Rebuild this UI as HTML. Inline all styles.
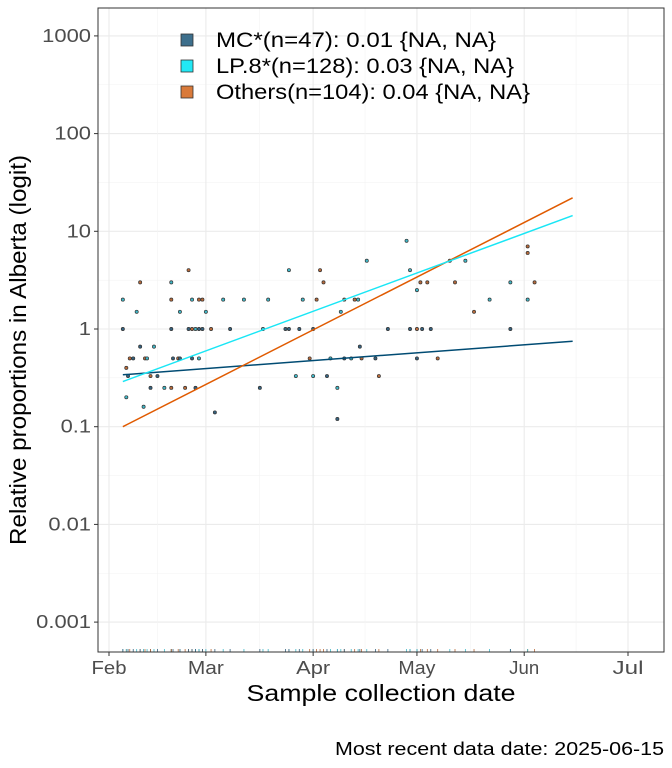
<!DOCTYPE html>
<html><head><meta charset="utf-8"><style>
body{margin:0;background:#fff;}
svg{display:block;font-family:"Liberation Sans",Arial,sans-serif;}
</style></head><body>
<svg id="chart" width="672" height="768" viewBox="0 0 672 768"></svg>
<script>
const yTicks=[0.001,0.01,0.1,1,10,100,1000];
const yTickLabels=["0.001","0.01","0.1","1","10","100","1000"];
const xTickDays=[0,28,59,89,120,150];
const xTickLabels=["Feb","Mar","Apr","May","Jun","Jul"];
const lineStartDay=4, lineEndDay=134;
const mcLine=[0.34,0.75];
const lpLine=[0.29,14.5];
const othersLine=[0.1,22];
const pointDays=[4,4,5,5,5.5,6,7,8,9,9,10,10.4,11,12,12,13,14,16,18,18,18,18,18.5,20,20.5,20.5,22,23,23,24,24,24,25,25,26,26,26,27,27,28,29.5,30.6,33,35,39,43.6,44.5,46,51,52,52,54,55,56,58,59,59,60,61,62,63,64,66,66,67,68,68,70,71,72,72.5,73,74.5,77,78,80.6,86,87,87,89,89,89,90,90.5,92,93,95,98.5,100,103,105.5,110,116,116,121,121,121,123];
const pointValues=[2,1,0.4,0.2,0.33,0.5,0.5,1.5,3,0.66,0.16,0.5,0.5,0.25,0.33,0.66,0.33,0.25,0.25,3,1,2,0.5,0.5,1.5,0.5,0.25,4,1,2,1,0.5,1,0.25,2,1,0.5,2,1,1.5,1,0.14,2,1,2,0.25,1,2,1,4,1,0.33,1,2,0.5,0.33,1,2,4,3,0.33,0.5,0.12,0.25,1.5,2,0.5,0.5,2,2,0.66,0.5,5,0.5,0.33,1,8,1,4,1,0.5,2.5,3,1,3,1,0.5,5,3,5,1.5,2,3,1,6,7,2,3];
const pointGroups=[1,0,2,1,0,2,0,1,2,0,1,2,1,0,2,1,0,1,2,1,0,2,0,2,1,0,2,2,0,1,2,0,1,0,2,0,1,2,0,1,2,0,1,0,1,0,1,1,0,1,0,1,0,1,2,1,0,2,2,2,0,1,0,1,1,2,0,1,2,1,0,2,1,0,2,0,1,0,1,2,0,1,2,0,2,0,2,1,2,1,2,1,1,0,2,2,1,2];
const groupColors=["#35627f","#3fb8c8","#b86a3a"];
const svg=document.getElementById('chart');
const NS='http://www.w3.org/2000/svg';
const L=98,R=664,T=8,B=652;
function xsd(d){return 109+d*3.46;}
function ys(v){return 329-Math.log10(v)*97.7;}
function mk(tag,attrs,parent){const e=document.createElementNS(NS,tag);for(const k in attrs)e.setAttribute(k,attrs[k]);(parent||svg).appendChild(e);return e;}
function numLen(s){let w=0;for(const ch of s)w+=(ch==='.')?6:12.2;return w;}
const panel=mk('rect',{x:L,y:T,width:R-L,height:B-T,fill:'#fff'});


const grid=mk('g',{});


for(let i=0;i<yTicks.length;i++){
  const y=ys(yTicks[i]);
  mk('line',{x1:L,x2:R,y1:y,y2:y,stroke:'#ebebeb','stroke-width':1.1},grid);
  if(i<yTicks.length-1){const ym=ys(yTicks[i]*Math.sqrt(10));mk('line',{x1:L,x2:R,y1:ym,y2:ym,stroke:'#f3f3f3','stroke-width':0.6},grid);}
}
for(let i=0;i<xTickDays.length;i++){
  const x=xsd(xTickDays[i]);
  mk('line',{x1:x,x2:x,y1:T,y2:B,stroke:'#ebebeb','stroke-width':1.1},grid);
  if(i<xTickDays.length-1){const xm=xsd((xTickDays[i]+xTickDays[i+1])/2);mk('line',{x1:xm,x2:xm,y1:T,y2:B,stroke:'#f3f3f3','stroke-width':0.6},grid);}
}
const pts=mk('g',{});


for(let i=0;i<pointDays.length;i++){
  const c=mk('circle',{cx:xsd(pointDays[i]),cy:ys(pointValues[i]),r:1.6,fill:groupColors[pointGroups[i]],stroke:'#333','stroke-width':0.7},pts);
  
  
  const rug=mk('line',{x1:xsd(pointDays[i]),x2:xsd(pointDays[i]),y1:B-3,y2:B,stroke:groupColors[pointGroups[i]],'stroke-width':0.8},pts);
  
  
}
function fitLine(vals,color,name){
  const l=mk('line',{x1:xsd(lineStartDay),y1:ys(vals[0]),x2:xsd(lineEndDay),y2:ys(vals[1]),stroke:color,'stroke-width':1.5});
  
  
}
fitLine(mcLine,'#004b73','mc-fit-line');
fitLine(othersLine,'#e05a00','others-fit-line');
fitLine(lpLine,'#19e6f5','lp8-fit-line');
const border=mk('rect',{x:L,y:T,width:R-L,height:B-T,fill:'none',stroke:'#333','stroke-width':1});


const yax=mk('g',{});


for(let i=0;i<yTicks.length;i++){
  const y=ys(yTicks[i]);
  mk('line',{x1:L-4,x2:L,y1:y,y2:y,stroke:'#333','stroke-width':1},yax);
  const t=mk('text',{x:L-7,y:y+6,'text-anchor':'end','font-size':18,fill:'#4d4d4d',textLength:numLen(yTickLabels[i]),lengthAdjust:'spacingAndGlyphs'},yax);
  t.textContent=yTickLabels[i];
  
  
}
const xLabelLens=[35,36,34,37,30,31];
const xax=mk('g',{});


for(let i=0;i<xTickDays.length;i++){
  const x=xsd(xTickDays[i]);
  mk('line',{x1:x,x2:x,y1:B,y2:B+4,stroke:'#333','stroke-width':1},xax);
  const t=mk('text',{x:x,y:B+22,'text-anchor':'middle','font-size':18,fill:'#4d4d4d',textLength:xLabelLens[i],lengthAdjust:'spacingAndGlyphs'},xax);
  t.textContent=xTickLabels[i];
  
  
}
const yt=mk('text',{x:0,y:0,transform:'translate(26,350) rotate(-90)','text-anchor':'middle','font-size':23,fill:'#000',textLength:390,lengthAdjust:'spacingAndGlyphs'});
yt.textContent='Relative proportions in Alberta (logit)';


const xt=mk('text',{x:381,y:701,'text-anchor':'middle','font-size':23,fill:'#000',textLength:269,lengthAdjust:'spacingAndGlyphs'});
xt.textContent='Sample collection date';


const cap=mk('text',{x:664,y:755,'text-anchor':'end','font-size':18,fill:'#000',textLength:329,lengthAdjust:'spacingAndGlyphs'});
cap.textContent='Most recent data date: 2025-06-15';


const legendLabels=["MC*(n=47): 0.01 {NA, NA}","LP.8*(n=128): 0.03 {NA, NA}","Others(n=104): 0.04 {NA, NA}"];
const legendLens=[280,298,314];
const legendColors=["#3d6f8c","#22e8f5","#d97a3a"];
const lg=mk('g',{});


for(let i=0;i<3;i++){
  const y=40+i*26;
  const k=mk('rect',{x:181,y:y-6,width:12,height:12,fill:legendColors[i],stroke:'#333','stroke-width':0.8},lg);
  
  
  const t=mk('text',{x:216,y:y+7,'font-size':21,fill:'#000',textLength:legendLens[i],lengthAdjust:'spacingAndGlyphs'},lg);
  t.textContent=legendLabels[i];
  
  
}
</script>
</body></html>
